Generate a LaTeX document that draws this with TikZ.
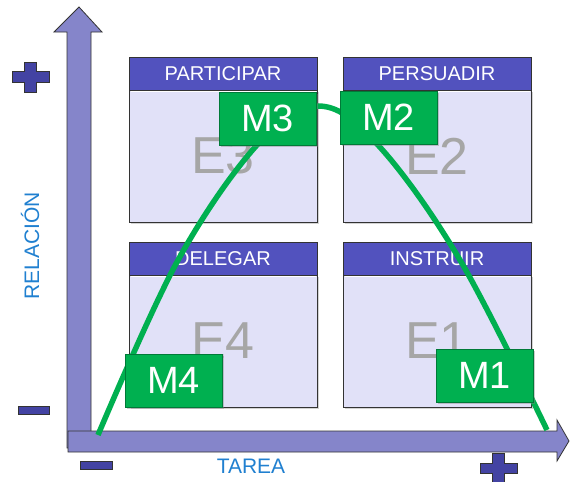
\documentclass[tikz,border=0pt]{standalone}
\usepackage{fontspec}
\setmainfont{Liberation Sans}
\usetikzlibrary{shadows}
\definecolor{axisfill}{HTML}{8585CA}
\definecolor{signfill}{HTML}{4343A3}
\definecolor{hdrfill}{HTML}{5252BE}
\definecolor{bodyfill}{HTML}{E1E1F8}
\definecolor{mgreen}{HTML}{00B050}
\definecolor{mborder}{HTML}{007A38}
\definecolor{lblue}{HTML}{2080D0}
\definecolor{egray}{HTML}{A6A6A6}
\tikzset{
  axisarrow/.style={fill=axisfill, draw=black!80, line width=0.8pt, line join=miter},
  sign/.style={fill=signfill, draw=black!80, line width=0.8pt},
  hdr/.style={fill=hdrfill, draw=black!80, line width=0.8pt, anchor=north west,
    minimum width=188pt, minimum height=33pt, inner sep=0pt, outer sep=0pt,
    text=white, font=\fontsize{20}{20}\selectfont},
  body/.style={fill=bodyfill, draw=black!80, line width=0.8pt, anchor=north west,
    minimum width=188pt, minimum height=132pt, inner sep=0pt, outer sep=0pt,
    drop shadow={shadow xshift=1.5pt, shadow yshift=-1.5pt, opacity=0.35}},
  elabel/.style={text=egray, font=\fontsize{52}{52}\selectfont},
  mbox/.style={fill=mgreen, draw=mborder, line width=0.8pt, anchor=north west,
    minimum width=97pt, minimum height=53pt, inner sep=0pt, outer sep=0pt,
    text=white, font=\fontsize{38}{38}\selectfont,
    drop shadow={shadow xshift=2pt, shadow yshift=-2pt, opacity=0.4}},
  axlabel/.style={text=lblue, font=\fontsize{21}{21}\selectfont},
  curve/.style={draw=mgreen, line width=5.5pt}
}
\begin{document}
\begin{tikzpicture}[x=1pt,y=-1pt]
\useasboundingbox (0,0) rectangle (571,482);
% axes
\draw[axisarrow] (67,448) -- (67,32) -- (54,32) -- (79,7) -- (102,32) -- (91,32) -- (91,448) -- cycle;
\draw[axisarrow] (68,431) -- (557,431) -- (557,420) -- (569,441) -- (557,461) -- (557,452) -- (68,452) -- cycle;
% signs
\draw[sign] (24,62) -- (36,62) -- (36,71) -- (49,71) -- (49,82) -- (36,82) -- (36,92) -- (24,92) -- (24,82) -- (12,82) -- (12,71) -- (24,71) -- cycle;
\draw[sign] (18,406) rectangle (49,414);
\draw[sign] (80,461) rectangle (112,469);
\draw[sign] (492,453) -- (504,453) -- (504,463) -- (517,463) -- (517,473) -- (504,473) -- (504,484) -- (492,484) -- (492,473) -- (480,473) -- (480,463) -- (492,463) -- cycle;
% axis labels
\node[axlabel, rotate=90] (rel) at (30,246) {RELACIÓN};
\node[axlabel] (tar) at (251,466) {TAREA};
% quadrant boxes
\node[body] (b3) at (129,90) {};
\node[hdr] (h3) at (129,57) {PARTICIPAR};
\node[body] (b2) at (343,90) {};
\node[hdr] (h2) at (343,57) {PERSUADIR};
\node[body] (b4) at (129,275) {};
\node[hdr] (h4) at (129,242) {DELEGAR};
\node[body] (b1) at (343,275) {};
\node[hdr] (h1) at (343,242) {INSTRUIR};
\foreach \b in {b1,b2,b3,b4}{
  \draw[white, line width=1.2pt] ([xshift=1.5pt,yshift=-1.2pt]\b.north west) -- ([xshift=-1.5pt,yshift=-1.2pt]\b.north east);
}
\node[elabel] (e3) at (b3.center) {E3};
\node[elabel] (e2) at (b2.center) {E2};
\node[elabel] (e4) at (b4.center) {E4};
\node[elabel] (e1) at (b1.center) {E1};
% curve
\coordinate (cs) at (98,435);
\coordinate (ce) at (547,430);
\draw[curve] plot[smooth, tension=0.6] coordinates {(98,435) (177,262) (257,145) (318,106) (378,145) (460,260) (547,430)};
% M boxes
\node[mbox] (m3) at (219,92) {M3};
\node[mbox] (m2) at (340,91) {M2};
\node[mbox] (m4) at (125,354) {M4};
\node[mbox] (m1) at (436,349) {M1};
\end{tikzpicture}
\end{document}
